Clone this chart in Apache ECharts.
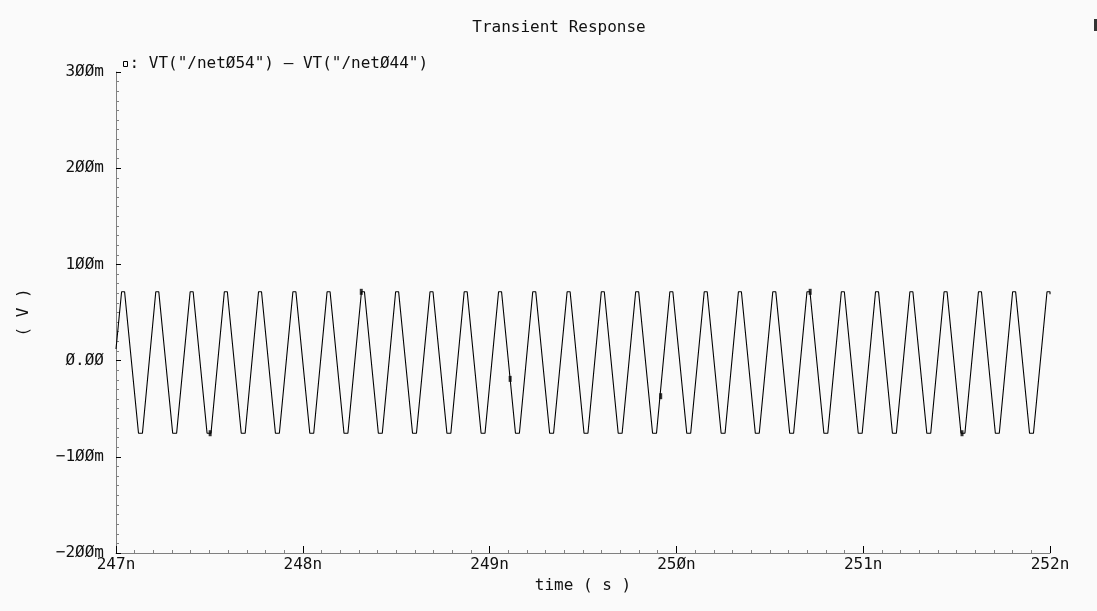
<!DOCTYPE html>
<html>
<head>
<meta charset="utf-8">
<script src="https://cdn.jsdelivr.net/npm/echarts@6/dist/echarts.min.js"></script>
<style>
  html, body { margin: 0; padding: 0; background: #fafafa; }
  #chart { width: 1097px; height: 611px; }
</style>
</head>
<body>
<div id="chart"></div>
<script>
// Differential node voltage VT("/net054") - VT("/net044") over 247n..252n

// Time of each waveform crest (ns)
const peakTimes = [
  247.038, 247.221, 247.405, 247.588, 247.771, 247.955, 248.138, 248.322,
  248.505, 248.689, 248.872, 249.056, 249.239, 249.423, 249.606, 249.790,
  249.973, 250.157, 250.340, 250.524, 250.707, 250.891, 251.074, 251.258,
  251.441, 251.625, 251.808, 251.992
];
// Time of each waveform trough (ns)
const troughTimes = [
  247.131, 247.314, 247.498, 247.681, 247.864, 248.048, 248.231, 248.415,
  248.598, 248.782, 248.965, 249.149, 249.332, 249.516, 249.699, 249.883,
  250.066, 250.250, 250.433, 250.617, 250.800, 250.984, 251.167, 251.351,
  251.534, 251.718, 251.901
];
// Crest / trough levels (mV) and the width of their flat parts (ns)
const peakLevel = 71.5;
const troughLevel = -75.5;
const peakFlat = 0.016;
const troughFlat = 0.021;
// Waveform value at the window edges: [time ns, mV]
const startPoint = [247.0, 12];
const endPoint = [252.0, 69];

// Sample markers drawn on the trace
const markerTimes = [247.504, 248.313, 249.110, 249.916, 250.716, 251.529];
const markerValues = [-75.5, 71.5, -19, -37, 71.5, -75.5];

// Axis tick labels
const xTickLabels = { 247: '247n', 248: '248n', 249: '249n', 250: '25Øn', 251: '251n', 252: '252n' };
const yTickLabels = { 300: '3ØØm', 200: '2ØØm', 100: '1ØØm', 0: 'Ø.ØØ', '-100': '−1ØØm', '-200': '−2ØØm' };

const seriesName = 'VT("/netØ54") – VT("/netØ44")';

// Assemble the trace vertices in time order
const trace = [startPoint];
const events = [];
peakTimes.forEach(t => events.push({ t: t, v: peakLevel, w: peakFlat }));
troughTimes.forEach(t => events.push({ t: t, v: troughLevel, w: troughFlat }));
events.sort((a, b) => a.t - b.t);
events.forEach(e => {
  const a = Math.max(startPoint[0], e.t - e.w / 2);
  const b = Math.min(endPoint[0], e.t + e.w / 2);
  trace.push([a, e.v]);
  trace.push([b, e.v]);
});
trace.push(endPoint);

const markers = markerTimes.map((t, i) => [t, markerValues[i]]);

const FONT = 'DejaVu Sans Mono';
const FS = 16;
const chart = echarts.init(document.getElementById('chart'), null, { renderer: 'canvas' });

chart.setOption({
  backgroundColor: '#fafafa',
  animation: false,
  title: {
    text: 'Transient Response',
    left: 554,
    top: 15,
    textAlign: 'center',
    textStyle: { fontFamily: FONT, fontSize: FS, fontWeight: 'normal', color: '#111' }
  },
  legend: {
    left: 118,
    top: 51,
    icon: 'rect',
    itemWidth: 4,
    itemHeight: 5,
    itemGap: 0,
    data: [seriesName],
    formatter: name => ': ' + name,
    itemStyle: { color: '#fafafa', borderColor: '#000', borderWidth: 1 },
    textStyle: { fontFamily: FONT, fontSize: FS, color: '#111', padding: [0, 0, 0, -3] }
  },
  grid: { left: 116, right: 47, top: 72, bottom: 58, containLabel: false },
  xAxis: {
    type: 'value',
    min: 247,
    max: 252,
    interval: 1,
    name: 'time ( s )',
    nameLocation: 'middle',
    nameGap: 21,
    nameTextStyle: { fontFamily: FONT, fontSize: FS, color: '#111' },
    axisLine: { onZero: false, lineStyle: { color: '#808080', width: 1 } },
    axisTick: { inside: true, length: 7, lineStyle: { color: '#000' } },
    minorTick: { show: true, splitNumber: 10, length: 3, lineStyle: { color: '#808080' } },
    splitLine: { show: false },
    axisLabel: {
      margin: 4,
      fontFamily: FONT, fontSize: FS, color: '#111',
      formatter: v => xTickLabels[Math.round(v)] || ''
    }
  },
  yAxis: {
    type: 'value',
    min: -200,
    max: 300,
    interval: 100,
    name: '( V )',
    nameLocation: 'middle',
    nameRotate: 90,
    nameGap: 84,
    nameTextStyle: { fontFamily: FONT, fontSize: FS, color: '#111' },
    axisLine: { show: true, onZero: false, lineStyle: { color: '#808080', width: 1 } },
    axisTick: { show: true, inside: true, length: 5, lineStyle: { color: '#000' } },
    minorTick: { show: true, splitNumber: 10, length: 3, lineStyle: { color: '#808080' } },
    splitLine: { show: false },
    axisLabel: {
      margin: 12,
      padding: [0, 0, 10, 0],
      fontFamily: FONT, fontSize: FS, color: '#111',
      formatter: v => yTickLabels[String(Math.round(v))] || ''
    }
  },
  graphic: [
    { type: 'rect', left: 1094, top: 19, shape: { width: 3, height: 12 }, style: { fill: '#333' } }
  ],
  series: [
    {
      name: seriesName,
      type: 'line',
      data: trace,
      symbol: 'none',
      lineStyle: { color: '#000', width: 1.1 },
      silent: true
    },
    {
      name: 'markers',
      type: 'scatter',
      data: markers,
      symbol: 'rect',
      symbolSize: [3, 6],
      itemStyle: { color: '#000' },
      silent: true
    }
  ]
});
</script>
</body>
</html>
